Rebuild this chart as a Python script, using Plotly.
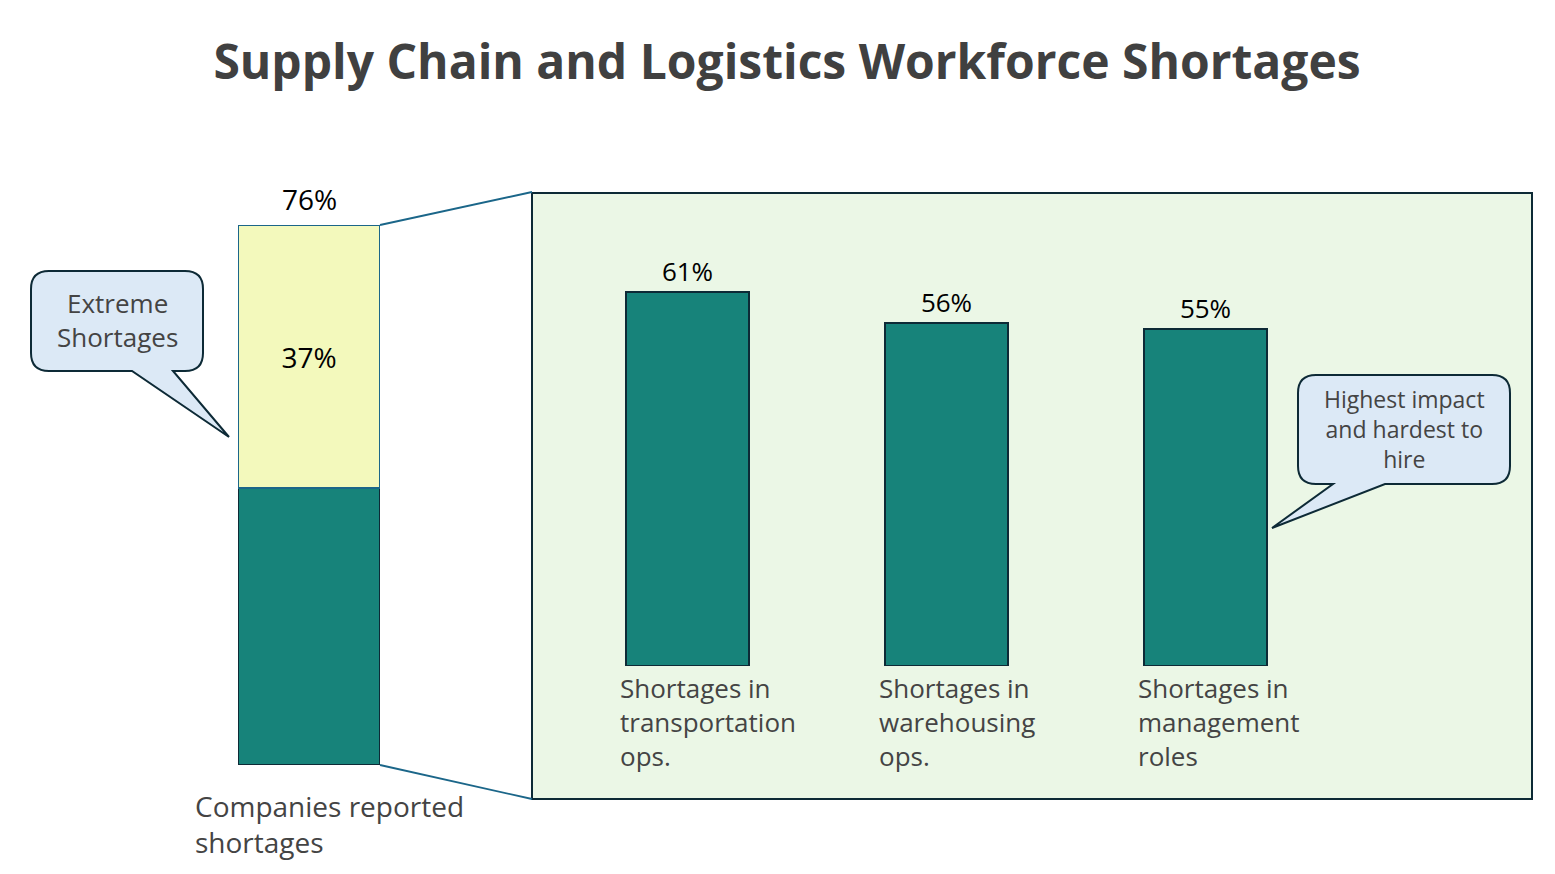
import plotly.graph_objects as go

W, H = 1555, 874

# ---- data ----
total_label = ["Companies reported", "shortages"]
total_pct = 76
extreme_pct = 37
other_pct = total_pct - extreme_pct
categories = [["Shortages in", "transportation", "ops."],
              ["Shortages in", "warehousing", "ops."],
              ["Shortages in", "management", "roles"]]
values = [61, 56, 55]
callout_left = ["Extreme", "Shortages"]
callout_right = ["Highest impact", "and hardest to", "hire"]
title = "Supply Chain and Logistics Workforce Shortages"

TEAL = "#17837A"
YELLOW = "#F3F9BC"
DARK = "#0D2A36"
BLUE = "#1B6689"
GRAY = "#444444"
FONT = "Open Sans"

def px(x):
    return x / W

def py(y):
    return 1 - y / H

fig = go.Figure()

# left stacked bar
fig.add_trace(go.Bar(x=[0], y=[other_pct], width=1, marker=dict(color=TEAL, line=dict(color=DARK, width=2)),
                     xaxis="x", yaxis="y", hoverinfo="skip"))
fig.add_trace(go.Bar(x=[0], y=[extreme_pct], width=1, marker=dict(color=YELLOW, line=dict(color=BLUE, width=2)),
                     text=[f"{extreme_pct}%"], textposition="inside", insidetextanchor="middle",
                     textfont=dict(size=28, color="black", family=FONT),
                     xaxis="x", yaxis="y", hoverinfo="skip"))

# right bars
xs = list(range(len(values)))
BW = 0.475
fig.add_trace(go.Bar(x=xs, y=values, width=BW, marker=dict(color=TEAL, line=dict(color=DARK, width=2)),
                     text=[f"{v}%" for v in values], textposition="outside",
                     textfont=dict(size=26, color="black", family=FONT), cliponaxis=False,
                     xaxis="x2", yaxis="y2", hoverinfo="skip"))

annotations = []
annotations.append(dict(x=0, y=total_pct, xref="x", yref="y", text=f"{total_pct}%", showarrow=False,
                        yanchor="middle", yshift=26, font=dict(size=28, color="black", family=FONT)))

def block_paper(lines, x, yc, size, xanchor, align):
    annotations.append(dict(x=px(x), y=py(yc), xref="paper", yref="paper", text="<br>".join(lines),
                            showarrow=False, xanchor=xanchor, yanchor="middle", align=align,
                            font=dict(size=size, color=GRAY, family=FONT)))

block_paper(total_label, 193, 824, 28, "left", "left")
block_paper(callout_left, 117, 320, 26, "center", "center")
block_paper(callout_right, 1404, 429, 23, "center", "center")

for i, c in enumerate(categories):
    annotations.append(dict(x=i - BW / 2, y=0, xref="x2", yref="y2", text="<br>".join(c), showarrow=False,
                            xanchor="left", yanchor="top", align="left", xshift=-8, yshift=-2,
                            font=dict(size=26, color=GRAY, family=FONT)))


def bubble(x0, y0, x1, y1, r, ta, tb, tx, ty):
    pts = [("M", x0 + r, y0), ("L", x1 - r, y0), ("Q", x1, y0, x1, y0 + r), ("L", x1, y1 - r),
           ("Q", x1, y1, x1 - r, y1), ("L", tb, y1), ("L", tx, ty), ("L", ta, y1), ("L", x0 + r, y1),
           ("Q", x0, y1, x0, y1 - r), ("L", x0, y0 + r), ("Q", x0, y0, x0 + r, y0)]
    s = ""
    for p in pts:
        cmd = p[0]
        coords = p[1:]
        parts = []
        for j in range(0, len(coords), 2):
            parts.append(f"{px(coords[j]):.5f},{py(coords[j+1]):.5f}")
        s += cmd + " " + " ".join(parts) + " "
    return s + "Z"

shapes = [
    dict(type="rect", xref="paper", yref="paper", x0=px(532), x1=px(1532), y0=py(799), y1=py(193),
         fillcolor="#EBF7E6", line=dict(color=DARK, width=2), layer="below"),
    dict(type="line", xref="paper", yref="paper", x0=px(380), y0=py(225), x1=px(532), y1=py(192),
         line=dict(color=BLUE, width=1.8)),
    dict(type="line", xref="paper", yref="paper", x0=px(380), y0=py(765), x1=px(532), y1=py(799),
         line=dict(color=BLUE, width=1.8)),
    dict(type="path", xref="paper", yref="paper", path=bubble(31, 271, 203, 371, 18, 132, 173, 229, 437),
         fillcolor="#DCE9F6", line=dict(color=DARK, width=2)),
    dict(type="path", xref="paper", yref="paper", path=bubble(1298, 375, 1510, 484, 18, 1333, 1385, 1272, 528),
         fillcolor="#DCE9F6", line=dict(color=DARK, width=2)),
]

ybot = 666
scale = 6.13
fig.update_layout(
    width=W, height=H,
    margin=dict(l=0, r=0, t=0, b=0),
    paper_bgcolor="white", plot_bgcolor="rgba(0,0,0,0)",
    barmode="stack", showlegend=False, bargap=0,
    title=dict(text=f"<b>{title}</b>", x=px(787), xanchor="center",
               y=py(62), yanchor="middle", font=dict(size=48, color="#404040", family=FONT)),
    xaxis=dict(domain=[px(238), px(380)], range=[-0.5, 0.5], visible=False, fixedrange=True),
    yaxis=dict(domain=[py(765), py(225)], range=[0, total_pct], visible=False, fixedrange=True),
    xaxis2=dict(domain=[px(687.5 - 129.5), px(687.5 + 3 * 259 - 129.5)], range=[-0.5, 2.5], visible=False,
                anchor="y2", fixedrange=True),
    yaxis2=dict(domain=[py(ybot), py(193)], range=[0, (ybot - 193) / scale], visible=False, anchor="x2",
                fixedrange=True),
    annotations=annotations, shapes=shapes,
)

fig.write_html("out.html", post_script="document.body.style.margin='0px';",
               config={"displayModeBar": False})
